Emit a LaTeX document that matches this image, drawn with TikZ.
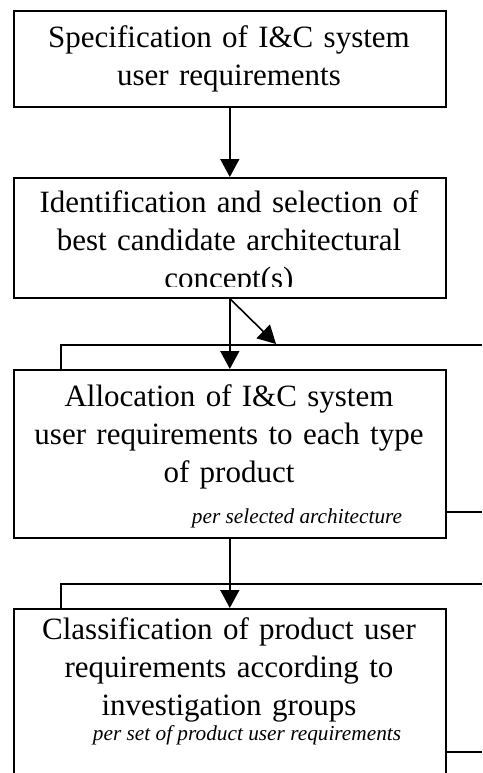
\documentclass[tikz,border=0pt]{standalone}
\usepackage{fontspec}
\setmainfont{Liberation Serif}
\usetikzlibrary{arrows.meta}
\begin{document}
\begin{tikzpicture}[x=1pt,y=1pt,
  box/.style={draw, line width=1.6pt, inner sep=0pt, minimum width=432pt, anchor=north west},
  maintext/.style={font=\fontsize{31}{38}\selectfont, align=center, text width=430pt, inner sep=0pt},
  note/.style={font=\fontsize{21.3}{24}\selectfont\itshape, inner sep=0pt},
  arr/.style={-{Triangle[length=18pt,width=19pt]}, line width=1.6pt},
  wire/.style={line width=1.6pt}]
\useasboundingbox (0,0) rectangle (482,-773);
% boxes
\node[box, minimum height=96pt] (b1) at (13,-10) {};
\node[box, minimum height=120pt] (b2) at (13,-177) {};
\node[box, minimum height=168pt] (b3) at (13,-369) {};
\node[box, minimum height=200pt] (b4) at (13,-608) {};
% texts
\node[maintext] (t1) at (229,-59) {Specification of I\&C system\\user requirements};
\begin{scope}
  \clip (13,-177) rectangle (445,-286);
  \node[maintext] (t2) at (229,-243) {Identification and selection of\\best candidate architectural\\concept(s)};
\end{scope}
\node[maintext] (t3) at (229,-437) {Allocation of I\&C system\\user requirements to each type\\of product};
\node[note] (n3) at (297,-518) {per selected architecture};
\node[maintext] (t4) at (229,-670) {Classification of product user\\requirements according to\\investigation groups};
\node[note] (n4) at (247,-735) {per set of product user requirements};
% frame coordinates
\coordinate (f3) at (482,-345);
\coordinate (r3) at (482,-512);
\coordinate (f4) at (482,-584);
\coordinate (r4) at (482,-752);
\coordinate (d2) at (276,-344);
% connectors
\draw[arr] (b1.south) -- (b2.north);
\draw[arr] (b2.south) -- (b3.north);
\draw[arr] (b2.south) -- (d2);
\draw[arr] (b3.south) -- (b4.north);
\draw[wire] ([xshift=48pt]b3.north west) |- (f3);
\draw[wire] (r3 -| b3.east) -- (r3);
\draw[wire] ([xshift=48pt]b4.north west) |- (f4);
\draw[wire] (r4 -| b4.east) -- (r4);
\end{tikzpicture}
\end{document}
